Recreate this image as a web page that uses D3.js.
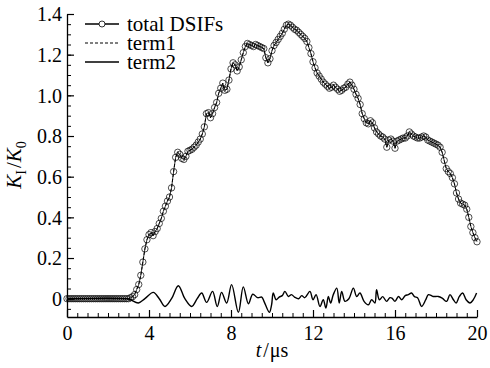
<!DOCTYPE html>
<meta charset="utf-8">
<style>
body { margin: 0; background: #fff; }
text { font-family: "Liberation Serif", "Times New Roman", serif; fill: #000; }
.axis path, .axis line { stroke: #000; }
</style>
<body>
<script src="https://d3js.org/d3.v7.min.js"></script>
<script>

// total DSIFs sampled every 0.1 us from t = 3.0 to 20.0 (zero before 3.0)
var totalTail = [
  0.00, 0.005, 0.01, 0.02, 0.045, 0.07, 0.115, 0.18, 0.245, 0.29,
  0.315, 0.325, 0.31, 0.33, 0.345, 0.37, 0.395, 0.43, 0.455, 0.48,
  0.50, 0.545, 0.625, 0.695, 0.72, 0.71, 0.69, 0.685, 0.70, 0.725,
  0.73, 0.735, 0.745, 0.755, 0.77, 0.785, 0.81, 0.845, 0.91, 0.915,
  0.89, 0.91, 0.94, 0.965, 1.01, 1.035, 1.06, 1.025, 1.03, 1.075,
  1.13, 1.16, 1.15, 1.12, 1.14, 1.175, 1.21, 1.24, 1.255, 1.25,
  1.245, 1.24, 1.25, 1.245, 1.24, 1.235, 1.23, 1.185, 1.16, 1.18,
  1.22, 1.245, 1.26, 1.275, 1.29, 1.305, 1.325, 1.345, 1.35, 1.345,
  1.335, 1.325, 1.32, 1.31, 1.30, 1.29, 1.28, 1.265, 1.235, 1.205,
  1.165, 1.135, 1.11, 1.095, 1.08, 1.065, 1.055, 1.045, 1.035, 1.04,
  1.05, 1.04, 1.03, 1.02, 1.025, 1.035, 1.04, 1.055, 1.065, 1.05,
  1.03, 1.005, 0.985, 0.955, 0.91, 0.885, 0.865, 0.86, 0.875, 0.865,
  0.84, 0.82, 0.81, 0.80, 0.795, 0.785, 0.745, 0.78, 0.785, 0.775,
  0.74, 0.775, 0.78, 0.785, 0.79, 0.79, 0.80, 0.82, 0.81, 0.80,
  0.795, 0.79, 0.79, 0.795, 0.80, 0.795, 0.78, 0.775, 0.77, 0.765,
  0.76, 0.755, 0.745, 0.72, 0.68, 0.64, 0.625, 0.615, 0.595, 0.565,
  0.52, 0.49, 0.47, 0.465, 0.46, 0.44, 0.40, 0.355, 0.325, 0.30,
  0.28
];
var totalHead = [0,0,0,0,0,0,0,0,0,0, 0,0,0,0,0,0,0,0,0,0, 0,0,0,0,0,0,0,0,0,0];
var totalValues = totalHead.concat(totalTail);
var totalTimes = d3.range(totalValues.length).map(function(i) { return i / 10; });

// term1 lies on top of the total curve
var term1Values = totalValues;

// term2: small oscillation (extrema)
var term2Times = [
  0, 2.9, 3.1, 3.48, 3.8, 4.21, 4.5, 4.78, 5.1, 5.43, 5.75, 6.08, 6.35, 6.57, 6.81,
  7.1, 7.33, 7.54, 7.79, 8.03, 8.36, 8.6, 8.85, 9.06, 9.3, 9.5, 9.61, 9.87, 9.98,
  10.06, 10.2, 10.35, 10.5, 10.63, 10.8, 10.95, 11.1, 11.3, 11.45, 11.6, 11.85,
  12.0, 12.15, 12.34, 12.5, 12.63, 12.75, 12.86, 12.99, 13.16, 13.28, 13.4, 13.56,
  13.75, 13.97, 14.13, 14.29, 14.49, 14.7, 14.86, 15.02, 15.1, 15.24, 15.4, 15.59,
  15.75, 15.85, 16.0, 16.17, 16.33, 16.5, 16.65, 16.81, 16.95, 17.1, 17.3, 17.5,
  17.63, 17.86, 18.11, 18.3, 18.52, 18.68, 18.85, 18.98, 19.14, 19.3, 19.47, 19.66,
  19.82, 19.98
];
var term2Values = [
  0, 0, -0.005, -0.021, 0.0, 0.031, 0.0, -0.038, 0.0, 0.064, 0.0, -0.038, 0.0, 0.028, -0.018,
  0.036, -0.038, 0.031, -0.021, 0.069, -0.067, 0.058, -0.025, 0.022, 0.005, 0.008, -0.013, -0.067, -0.03,
  0.028, -0.005, 0.008, 0.015, 0.036, 0.011, 0.02, 0.008, 0.0, 0.015, 0.005, 0.036,
  -0.005, 0.02, -0.038, -0.005, -0.046, 0.011, -0.021, 0.02, 0.052, -0.021, 0.036, -0.013,
  0.0, 0.052, 0.011, 0.028, -0.013, -0.03, -0.005, -0.021, 0.044, -0.005, 0.01, -0.013,
  0.005, 0.003, -0.013, 0.011, -0.005, 0.015, 0.02, 0.028, 0.01, 0.005, -0.038, -0.005,
  0.02, 0.011, 0.011, 0.003, -0.013, 0.02, -0.005, -0.021, 0.011, 0.028, -0.005, -0.021,
  -0.005, 0.028
];

var xMajor = [0, 4, 8, 12, 16, 20];
var yMajor = [0, 0.2, 0.4, 0.6, 0.8, 1.0, 1.2, 1.4];
var yLabels = ["0", "0.2", "0.4", "0.6", "0.8", "1.0", "1.2", "1.4"];
var legendNames = ["total DSIFs", "term1", "term2"];

var width = 490,
    height = 368,
    plotLeft = 67, plotRight = 477, plotTop = 14, plotBottom = 317;

var x = d3.scaleLinear().domain([0, 20]).range([plotLeft, plotRight]);
var y = d3.scaleLinear().domain([-0.09, 1.4]).range([plotBottom, plotTop]);

var svg = d3.select("body").append("svg")
    .attr("width", width)
    .attr("height", height);

// minor ticks
svg.append("g")
    .attr("class", "axis")
    .attr("transform", "translate(0," + plotBottom + ")")
    .call(d3.axisTop(x).tickValues(d3.range(0, 20.01, 0.5)).tickSize(4).tickFormat(""))
    .call(function(g) { g.select(".domain").remove(); })
    .selectAll("line").attr("stroke-width", 1);

svg.append("g")
    .attr("class", "axis")
    .attr("transform", "translate(" + plotLeft + ",0)")
    .call(d3.axisRight(y).tickValues(d3.range(-0.05, 1.401, 0.05)).tickSize(4).tickFormat(""))
    .call(function(g) { g.select(".domain").remove(); })
    .selectAll("line").attr("stroke-width", 1);

// major ticks + labels
var xAxis = svg.append("g")
    .attr("class", "axis")
    .attr("transform", "translate(0," + plotBottom + ")")
    .call(d3.axisTop(x).tickValues(xMajor).tickSizeInner(7).tickSizeOuter(0).tickFormat(""));
xAxis.select(".domain").attr("stroke-width", 1.3);
xAxis.selectAll("line").attr("stroke-width", 1.2);
xAxis.selectAll(".tick").append("text")
    .attr("y", 23)
    .attr("text-anchor", "middle")
    .style("font-size", "20px")
    .text(function(d) { return d; });

var yAxis = svg.append("g")
    .attr("class", "axis")
    .attr("transform", "translate(" + plotLeft + ",0)")
    .call(d3.axisRight(y).tickValues(yMajor).tickSizeInner(7).tickSizeOuter(0).tickFormat(""));
yAxis.select(".domain").attr("stroke-width", 1.3);
yAxis.selectAll("line").attr("stroke-width", 1.2);
yAxis.selectAll(".tick").append("text")
    .attr("x", -5)
    .attr("dy", "0.34em")
    .attr("text-anchor", "end")
    .style("font-size", "20px")
    .text(function(d, i) { return yLabels[i]; });

// axis titles
var xt = svg.append("text")
    .attr("x", (plotLeft + plotRight) / 2)
    .attr("y", 357)
    .attr("text-anchor", "middle")
    .style("font-size", "20px");
xt.append("tspan").style("font-style", "italic").text("t");
xt.append("tspan").attr("dx", 2).text("/");
xt.append("tspan").attr("dx", 1).text("μs");

var yt = svg.append("text")
    .attr("transform", "translate(21,165) rotate(-90)")
    .attr("text-anchor", "middle")
    .style("font-size", "21px");
yt.append("tspan").style("font-style", "italic").text("K");
yt.append("tspan").attr("dy", 5).style("font-size", "14px").text("I");
yt.append("tspan").attr("dy", -5).attr("dx", 2).text("/");
yt.append("tspan").style("font-style", "italic").text("K");
yt.append("tspan").attr("dy", 5).style("font-size", "14px").text("0");

// series
var totalPts = totalTimes.map(function(t, i) { return [t, totalValues[i]]; });
var term1Pts = totalTimes.map(function(t, i) { return [t, term1Values[i]]; });
var term2Pts = term2Times.map(function(t, i) { return [t, term2Values[i]]; });

var line = d3.line()
    .x(function(d) { return x(d[0]); })
    .y(function(d) { return y(d[1]); });

svg.append("path")
    .datum(term2Pts)
    .attr("fill", "none")
    .attr("stroke", "#000")
    .attr("stroke-width", 1.4)
    .attr("d", line.curve(d3.curveCatmullRom.alpha(0.5)));

line.curve(d3.curveLinear);

svg.append("path")
    .datum(term1Pts)
    .attr("fill", "none")
    .attr("stroke", "#000")
    .attr("stroke-width", 1)
    .attr("stroke-dasharray", "3,2")
    .attr("d", line);

svg.append("path")
    .datum(totalPts)
    .attr("fill", "none")
    .attr("stroke", "#000")
    .attr("stroke-width", 0.8)
    .attr("d", line);

svg.append("g").selectAll("circle")
    .data(totalPts)
  .enter().append("circle")
    .attr("cx", function(d) { return x(d[0]); })
    .attr("cy", function(d) { return y(d[1]); })
    .attr("r", 3.2)
    .attr("fill", "none")
    .attr("stroke", "#000")
    .attr("stroke-width", 0.7);

// legend
var legend = svg.append("g");
var rows = legend.selectAll("g")
    .data(legendNames)
  .enter().append("g")
    .attr("transform", function(d, i) { return "translate(85," + (24 + i * 19) + ")"; });

rows.append("line")
    .attr("x1", 0).attr("x2", 34)
    .attr("stroke", "#000")
    .attr("stroke-width", function(d, i) { return i === 1 ? 1 : 1.3; })
    .attr("stroke-dasharray", function(d, i) { return i === 1 ? "3,2" : null; });

rows.filter(function(d, i) { return i === 0; }).append("circle")
    .attr("cx", 17).attr("r", 3)
    .attr("fill", "#fff")
    .attr("stroke", "#000")
    .attr("stroke-width", 0.8);

rows.append("text")
    .attr("x", 42)
    .attr("dy", "0.32em")
    .style("font-size", "21px")
    .text(function(d) { return d; });

</script>
